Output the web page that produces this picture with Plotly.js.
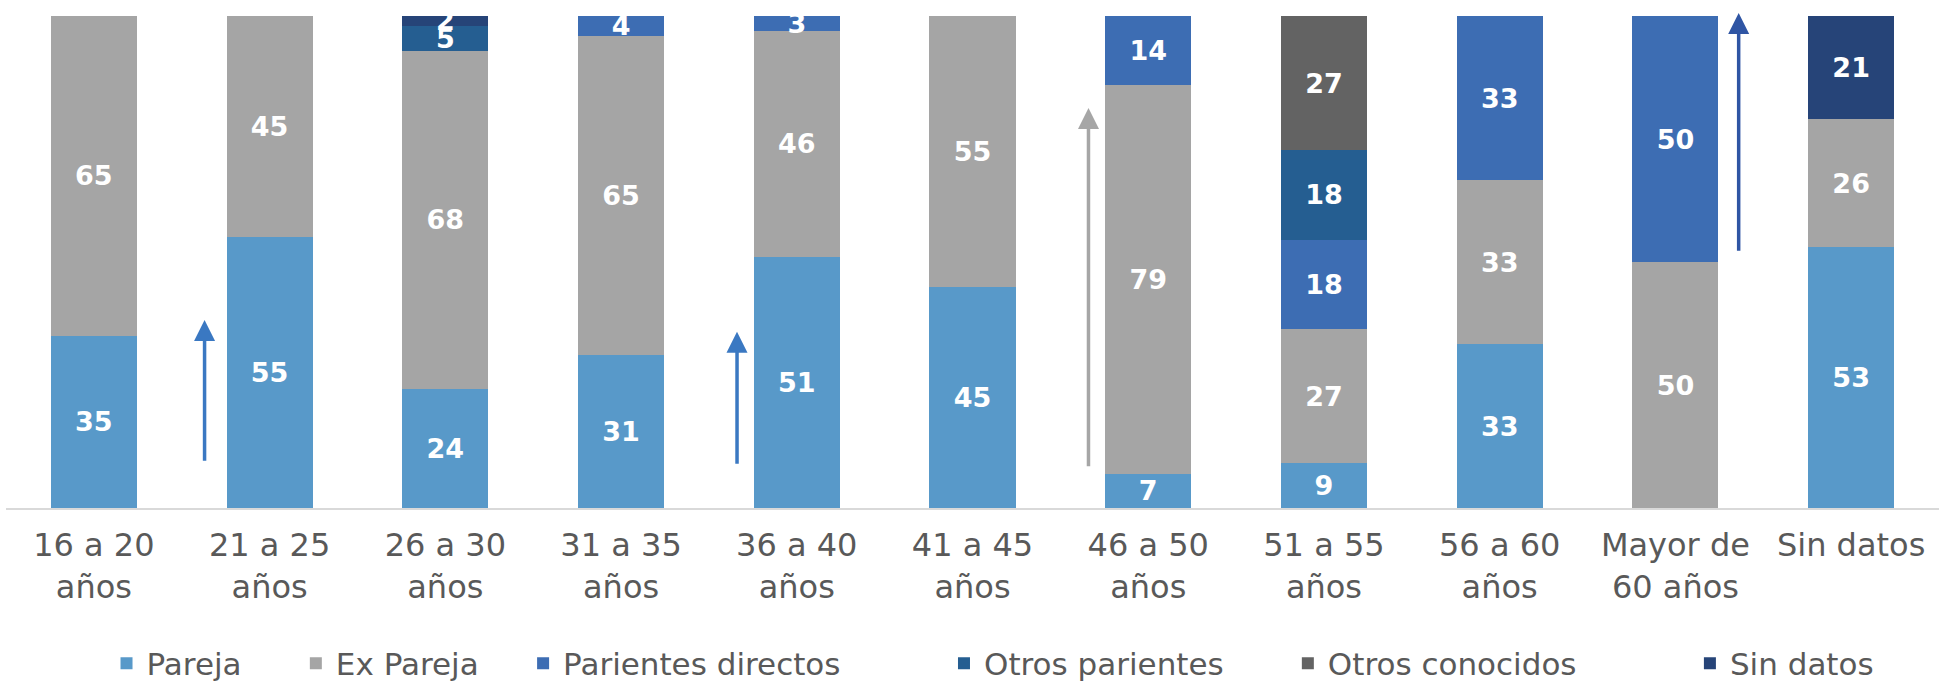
<!DOCTYPE html>
<html>
<head>
<meta charset="utf-8">
<script src="https://cdn.plot.ly/plotly-3.0.1.min.js"></script>
<style>
  html, body { margin: 0; padding: 0; background: #ffffff; }
  #chart { width: 1939px; height: 684px; }
</style>
</head>
<body>
<div id="chart"></div>
<script>
// Categories (age groups)
const categories = [
  "16 a 20<br>años", "21 a 25<br>años", "26 a 30<br>años", "31 a 35<br>años",
  "36 a 40<br>años", "41 a 45<br>años", "46 a 50<br>años", "51 a 55<br>años",
  "56 a 60<br>años", "Mayor de<br>60 años", "Sin datos"
];

// Series values (percent); null = segment absent
const pareja            = [35, 55, 24, 31, 51, 45, 7,  9,  33, null, 53];
const exPareja          = [65, 45, 68, 65, 46, 55, 79, 27, 33, 50,   26];
const parientesDirectos = [null, null, null, 4, 3, null, 14, 18, 33, 50, null];
const otrosParientes    = [null, null, 5, null, null, null, null, 18, null, null, null];
const otrosConocidos    = [null, null, null, null, null, null, null, 27, null, null, null];
const sinDatos          = [null, null, 2, null, null, null, null, null, null, null, 21];

const seriesNames  = ["Pareja", "Ex Pareja", "Parientes directos", "Otros parientes", "Otros conocidos", "Sin datos"];
const seriesValues = [pareja, exPareja, parientesDirectos, otrosParientes, otrosConocidos, sinDatos];
const seriesColors = ["#5899C9", "#A5A5A5", "#3D6DB3", "#255E91", "#636363", "#264478"];
// extra spacing after each legend entry (non-breaking spaces)
const legendPad = [5, 4, 10, 6, 11, 0];

// Decorative arrows: [headX, headY, tailX, tailY, color] in category index / percent units
const arrows = [
  [0.63, 38.2, 0.63, 9.3, "#3A78C2"],
  [3.66, 35.8, 3.66, 8.7, "#3A78C2"],
  [5.66, 81.3, 5.66, 8.2, "#A6A6A6"],
  [9.36, 100.6, 9.36, 52.0, "#2F55A4"]
];

const traces = seriesNames.map((name, i) => ({
  type: "bar",
  name: name + "\u00a0".repeat(legendPad[i]),
  x: categories,
  y: seriesValues[i],
  text: seriesValues[i].map(v => (v === null || v === 0) ? "" : String(v)),
  texttemplate: "%{text}",
  textposition: "inside",
  insidetextanchor: "middle",
  constraintext: "none",
  textangle: 0,
  textfont: { family: "DejaVu Sans", size: 27, color: "#ffffff", weight: "bold" },
  marker: { color: seriesColors[i], line: { width: 0 } },
  hoverinfo: "skip"
}));

const annotations = arrows.map(a => ({
  x: a[0], y: a[1], xref: "x", yref: "y",
  ax: a[2], ay: a[3], axref: "x", ayref: "y",
  text: "", showarrow: true,
  arrowhead: 2, arrowsize: 1.2, arrowwidth: 3.5,
  arrowcolor: a[4], standoff: 0, startstandoff: 0
}));

const layout = {
  width: 1939, height: 684,
  margin: { l: 6, r: 0, t: 16, b: 176, autoexpand: false },
  paper_bgcolor: "#ffffff",
  plot_bgcolor: "#ffffff",
  barmode: "stack",
  barnorm: "percent",
  bargap: 0.51,
  showlegend: true,
  hovermode: false,
  xaxis: {
    type: "category",
    showgrid: false,
    zeroline: false,
    showline: true,
    linecolor: "#D9D9D9",
    linewidth: 2,
    ticks: "outside",
    ticklen: 8,
    tickcolor: "rgba(0,0,0,0)",
    tickfont: { family: "DejaVu Sans, sans-serif", size: 32, color: "#595959" },
    automargin: false,
    fixedrange: true
  },
  yaxis: {
    range: [0, 100],
    showgrid: false,
    zeroline: false,
    showline: false,
    showticklabels: false,
    ticks: "",
    fixedrange: true
  },
  legend: {
    orientation: "h",
    xref: "paper", yref: "container",
    x: 0.052, xanchor: "left",
    y: 0.03, yanchor: "middle",
    font: { family: "DejaVu Sans, sans-serif", size: 31, color: "#595959" },
    traceorder: "normal",
    itemclick: false, itemdoubleclick: false
  },
  annotations: annotations
};

Plotly.newPlot("chart", traces, layout, { displayModeBar: false, staticPlot: true });
</script>
</body>
</html>
